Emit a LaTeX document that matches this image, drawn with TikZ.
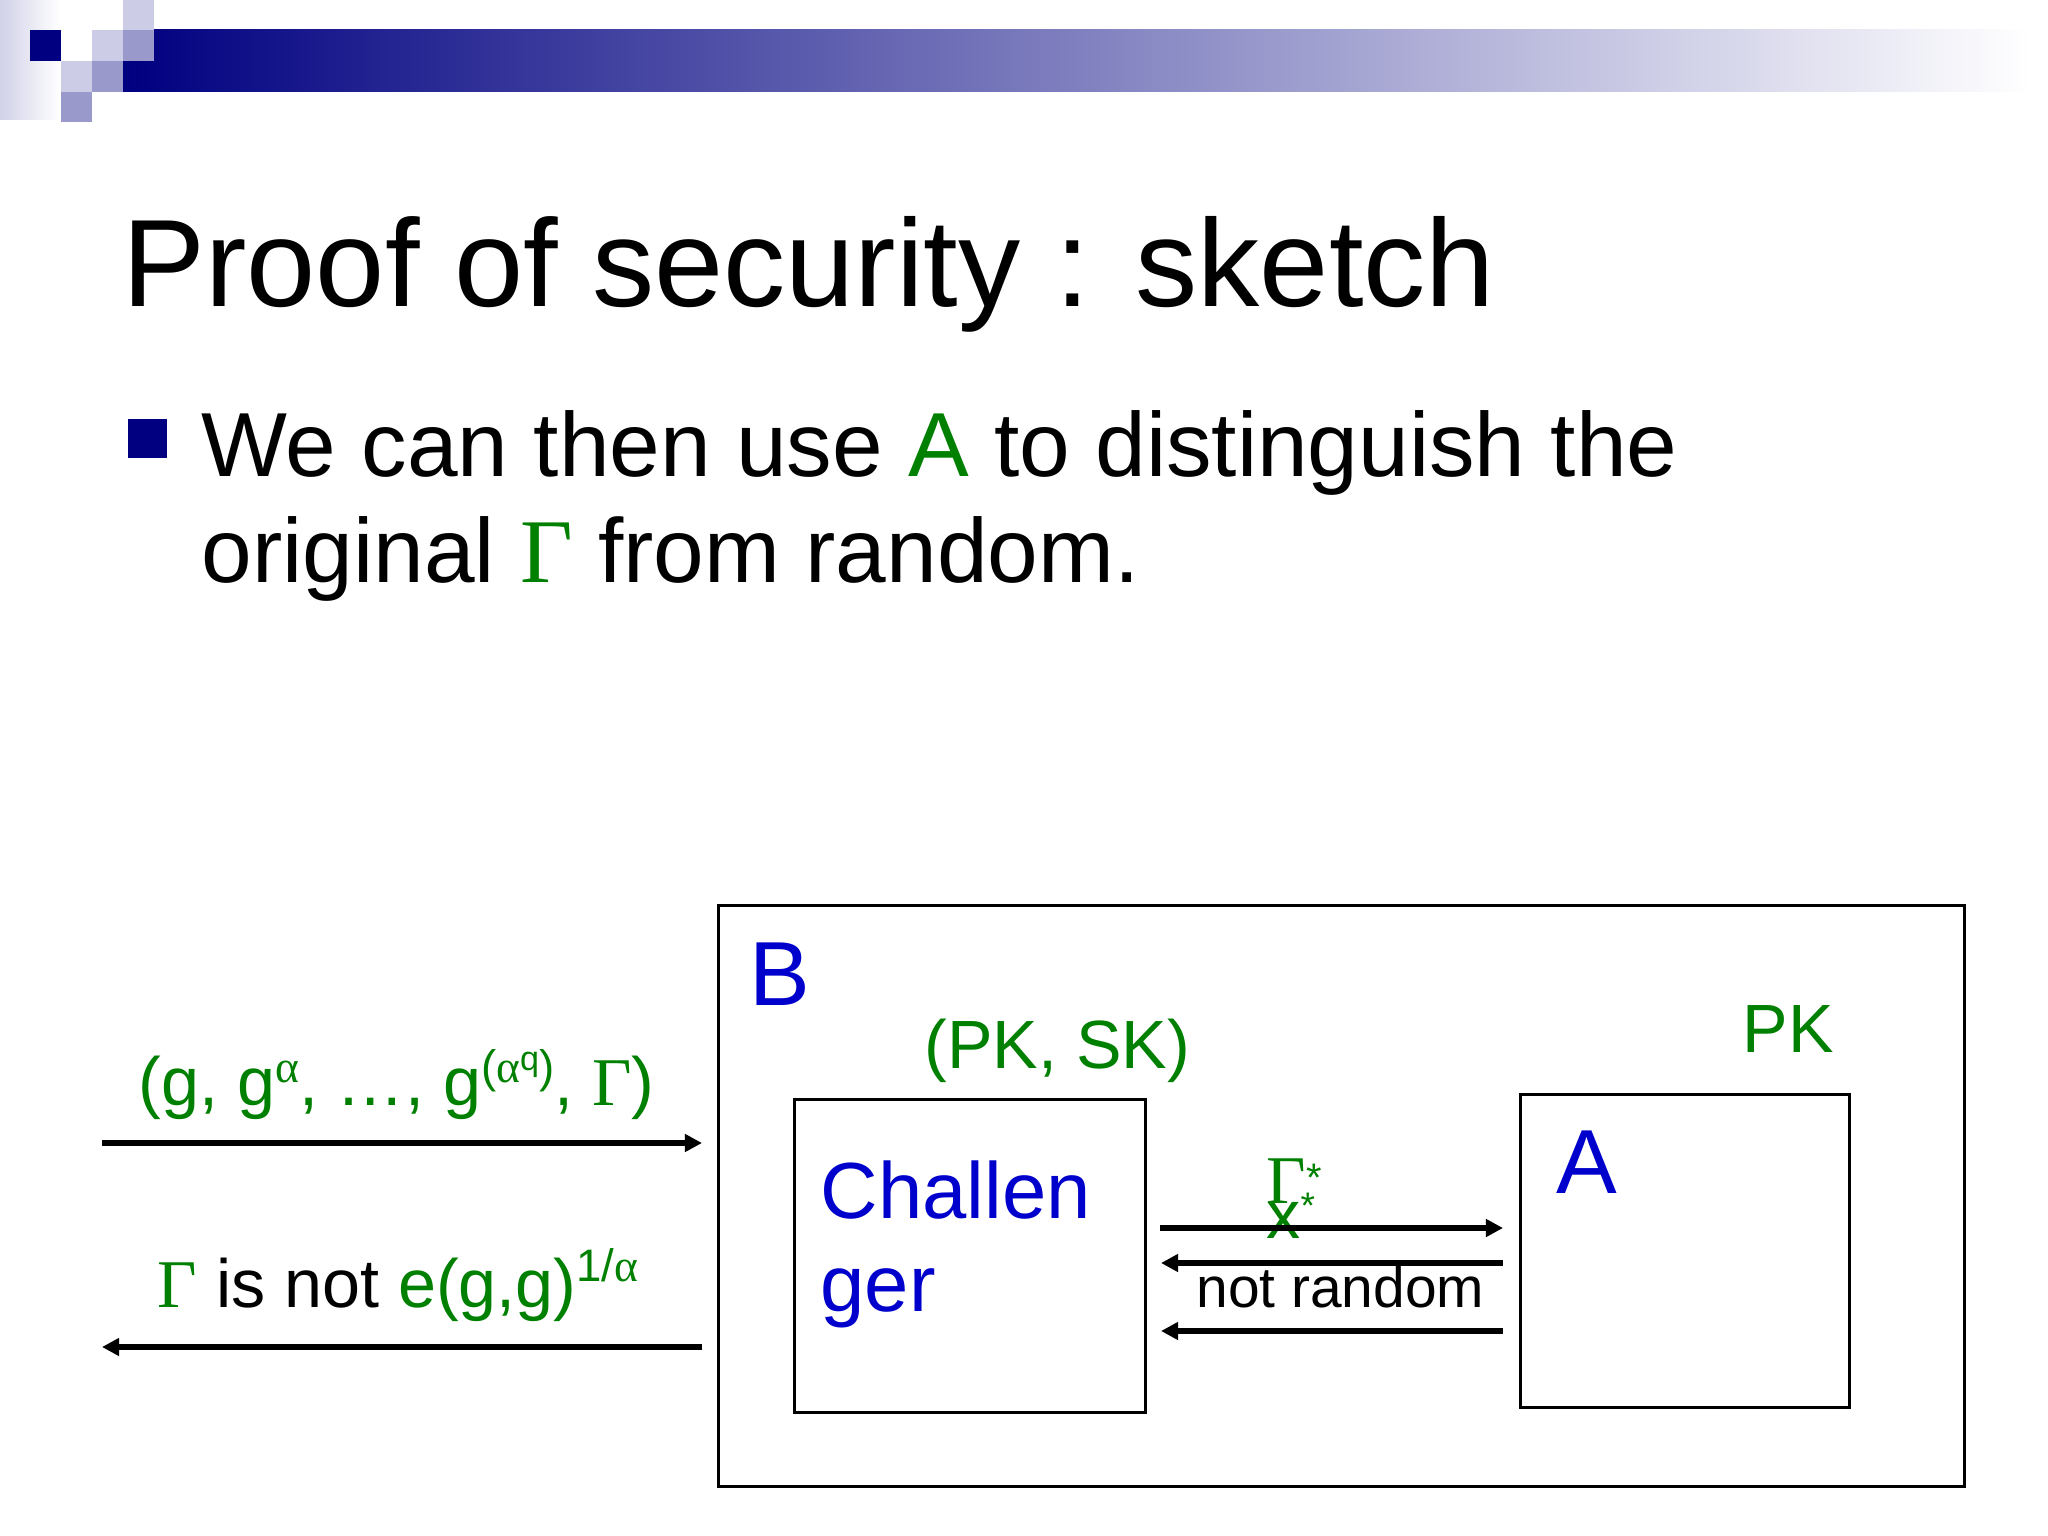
\documentclass[tikz,border=0pt]{standalone}
\usepackage{fontspec}
\setmainfont{Liberation Sans}
\newfontfamily\grk{Liberation Serif}
\usetikzlibrary{arrows.meta}
\definecolor{navy}{RGB}{0,0,128}
\definecolor{lightsq}{RGB}{204,204,230}
\definecolor{medsq}{RGB}{153,153,204}
\definecolor{tgreen}{RGB}{0,128,0}
\definecolor{tblue}{RGB}{0,0,204}
\newcommand{\myGam}{{\grk Γ}}
\newcommand{\myalp}{{\grk α}}
\newcommand{\mysup}[2][8pt]{\raisebox{#1}{\fontsize{16}{16}\selectfont #2}}
\begin{document}
\begin{tikzpicture}[x=0.3515625pt,y=-0.3515625pt,
  txt/.style={inner sep=0pt,anchor=base west},
  boxst/.style={draw=black,line width=1pt,inner sep=0pt,anchor=north west},
  arr/.style={line width=1.8pt,-{Triangle[length=6pt,width=6pt]}},
  sq/.style={draw=none}]
\useasboundingbox (0,0) rectangle (2048,1536);
\fill[white] (0,0) rectangle (2048,1536);
% top decoration
\shade[left color=navy!18,right color=white] (0,0) rectangle (60,120);
\shade[left color=navy,right color=white] (123,30) rectangle (2030,92);
\fill[navy] (30,30) rectangle (61,61);
\fill[lightsq] (123,0) rectangle (154,30);
\fill[lightsq] (92,30) rectangle (123,61);
\fill[medsq] (123,30) rectangle (154,61);
\fill[lightsq] (61,61) rectangle (92,92);
\fill[medsq] (92,61) rectangle (123,92);
\fill[medsq] (61,92) rectangle (92,122);
% title
\node[txt] (title) at (122,307) {\fontsize{43.7}{50}\selectfont Proof of security : sketch};
% bullet
\fill[navy] (128,419) rectangle (167,458);
\node[txt] (b1) at (201,477) {\fontsize{32}{36}\selectfont We can then use \textcolor{tgreen}{A} to distinguish the};
\node[txt] (b2) at (201,582) {\fontsize{32}{36}\selectfont original \textcolor{tgreen}{\myGam} from random.};
% boxes
\node[boxst,minimum width=438.0pt,minimum height=204.3pt] (B) at (717,904) {};
\node[boxst,minimum width=123.4pt,minimum height=110.0pt] (chal) at (793,1098) {};
\node[boxst,minimum width=115.7pt,minimum height=110.0pt] (A) at (1519,1093) {};
% labels
\node[txt,text=tblue] (Blab) at (749,1005) {\fontsize{32}{36}\selectfont B};
\node[txt,text=tgreen] (pksk) at (924,1068) {\fontsize{24}{28}\selectfont (PK, SK)};
\node[txt,text=tgreen] (pk) at (1742,1052) {\fontsize{24}{28}\selectfont PK};
\node[txt,text=tblue] (Alab) at (1556,1193) {\fontsize{32}{36}\selectfont A};
\node[txt,text=tblue] (chal1) at (820,1218) {\fontsize{28}{32}\selectfont Challen};
\node[txt,text=tblue] (chal2) at (820,1311) {\fontsize{28}{32}\selectfont ger};
\node[txt,text=tgreen] (gstar) at (1266,1203) {\fontsize{24}{28}\selectfont \myGam\raisebox{4pt}{\fontsize{14}{14}\selectfont *}};
\node[txt,text=tgreen] (xstar) at (1266,1238) {\fontsize{24}{28}\selectfont x\raisebox{7pt}{\fontsize{13}{13}\selectfont *}};
\node[txt] (notr) at (1196,1307) {\fontsize{20}{24}\selectfont not random};
\node[txt,text=tgreen] (inp) at (138,1105) {\fontsize{24}{28}\selectfont (g, g\mysup{\myalp}, …, g\mysup{(\myalp\raisebox{4pt}{\fontsize{12}{12}\selectfont q})}, \myGam)};
\node[txt] (outp) at (157,1307) {\fontsize{24}{28}\selectfont \textcolor{tgreen}{\myGam} is not \textcolor{tgreen}{e(g,g)\mysup[9pt]{1/\myalp}}};
% arrow end points
\coordinate (l1a) at (102,1143);
\coordinate (l1b) at (702,1143);
\coordinate (l2a) at (702,1347);
\coordinate (l2b) at (102,1347);
\coordinate (m1a) at (1160,1228);
\coordinate (m1b) at (1503,1228);
\coordinate (m2a) at (1503,1263);
\coordinate (m2b) at (1161,1263);
\coordinate (m3a) at (1503,1331);
\coordinate (m3b) at (1161,1331);
\draw[arr] (l1a) -- (l1b);
\draw[arr] (l2a) -- (l2b);
\draw[arr] (m1a) -- (m1b);
\draw[arr] (m2a) -- (m2b);
\draw[arr] (m3a) -- (m3b);
\end{tikzpicture}
\end{document}
